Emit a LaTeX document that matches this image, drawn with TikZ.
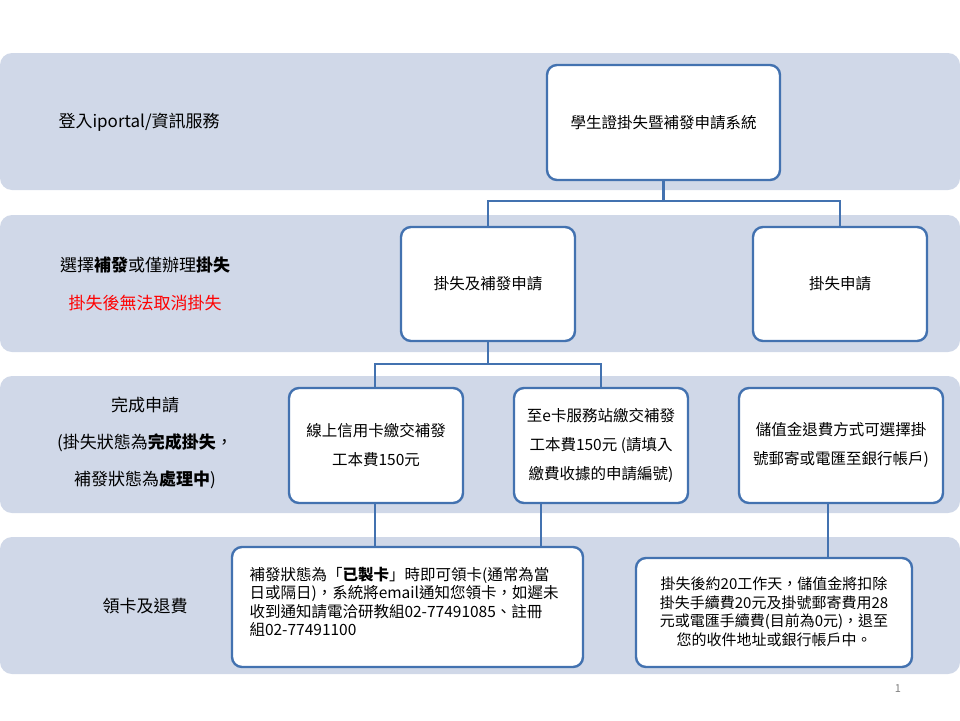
\documentclass[tikz,border=0pt]{standalone}
\usepackage{fontspec}
\setmainfont{Noto Sans CJK TC}
\begin{document}
\begin{tikzpicture}[x=1pt,y=-1pt,
  band/.style={fill=bandc,rounded corners=12pt},
  box/.style={draw=boxc,line width=2.4pt,fill=white,rounded corners=10pt},
  conn/.style={draw=boxc,line width=2.4pt},
  lbl/.style={font=\fontsize{17}{37}\selectfont,align=center},
  txt/.style={font=\fontsize{15.5}{29}\selectfont,align=center}]
\definecolor{bandc}{HTML}{D0D8E8}
\definecolor{boxc}{HTML}{4372B0}
\useasboundingbox (0,0) rectangle (960,720);
\fill[white] (0,0) rectangle (960,720);
\foreach \a/\b in {53/190,215/352,376/513,537/674}
  \path[band] (0,\a) rectangle (960,\b);
% boxes
\path[box] (547,65) rectangle (780,180);
\node[txt] (top) at (663.5,122.5) {學生證掛失暨補發申請系統};
\path[box] (401,227) rectangle (575,341);
\node[txt] (both) at (488,284) {掛失及補發申請};
\path[box] (753,227) rectangle (927,341);
\node[txt] (lost) at (840,284) {掛失申請};
\path[box] (289,388) rectangle (463,503);
\node[txt] (card) at (376,445) {線上信用卡繳交補發\\工本費150元};
\path[box] (514,388) rectangle (688,503);
\node[txt] (ecard) at (601,445) {至e卡服務站繳交補發\\工本費150元 (請填入\\繳費收據的申請編號)};
\path[box] (739,388) rectangle (943,503);
\node[txt] (refund) at (841,445) {儲值金退費方式可選擇掛\\號郵寄或電匯至銀行帳戶)};
\path[box] (232,547) rectangle (583,667);
\node[font=\fontsize{15.5}{18.5}\selectfont,align=left,anchor=west] (pick) at (246,602) {補發狀態為「\textbf{已製卡}」時即可領卡(通常為當\\日或隔日)，系統將email通知您領卡，如遲未\\收到通知請電洽研教組02-77491085、註冊\\組02-77491100};
\path[box] (636,558) rectangle (912,667);
\node[font=\fontsize{15}{18.5}\selectfont,align=center] (ref2) at (774,612) {掛失後約20工作天，儲值金將扣除\\掛失手續費20元及掛號郵寄費用28\\元或電匯手續費(目前為0元)，退至\\您的收件地址或銀行帳戶中。};
% connectors
\coordinate (j1) at (663.5,201);
\coordinate (j2) at (488,364);
\draw[conn] (663.5,180) -- (j1) -| (488,227);
\draw[conn] (j1) -| (840,227);
\draw[conn] (488,341) -- (j2) -| (375,388);
\draw[conn] (j2) -| (601,388);
\draw[conn] (375,503) -- (375,547);
\draw[conn] (541,503) -- (541,547);
\draw[conn] (828,503) -- (828,558);
% left labels
\node[lbl,anchor=west] (l1) at (55,122) {登入iportal/資訊服務};
\node[lbl] (l2) at (145,265) {選擇\textbf{補發}或僅辦理\textbf{掛失}};
\node[lbl,text=red] (l2b) at (145,303) {掛失後無法取消掛失};
\node[lbl] (l3) at (145,443) {完成申請\\(掛失狀態為\textbf{完成掛失}，\\補發狀態為\textbf{處理中})};
\node[lbl] (l4) at (145,606) {領卡及退費};
\node[font=\fontsize{11}{13}\selectfont,text=gray] (pg) at (898,689) {1};
\end{tikzpicture}
\end{document}
